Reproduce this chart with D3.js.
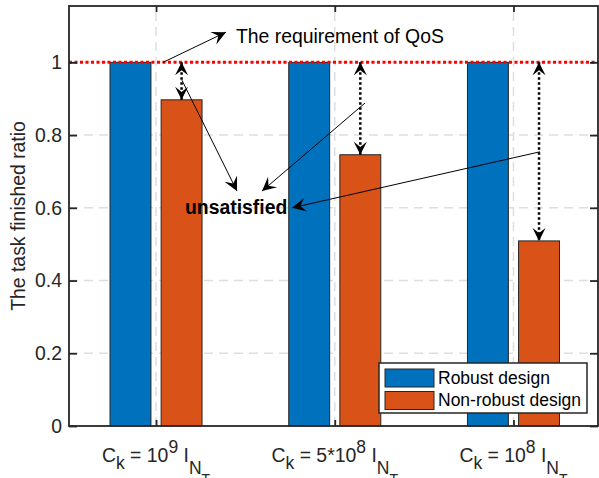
<!DOCTYPE html>
<html>
<head>
<meta charset="utf-8">
<script src="https://cdn.jsdelivr.net/npm/d3@7"></script>
<style>
  body { margin: 0; background: #fff; }
  svg { display: block; font-family: "Liberation Sans", Arial, Helvetica, sans-serif; }
</style>
</head>
<body>
<svg class="js-render-chart" width="599" height="478"></svg>
<script>
"use strict";

//data

const catBase = ["10", "5*10", "10"];
const catPower = ["9", "8", "8"];
const seriesNames = ["Robust design", "Non-robust design"];
const seriesColors = ["#0072BD", "#D95319"];
const robust = [1, 1, 1];
const nonRobust = [0.897, 0.746, 0.509];
const yTicks = [0, 0.2, 0.4, 0.6, 0.8, 1];
const yTickLabels = ["0", "0.2", "0.4", "0.6", "0.8", "1"];
const qosLevel = 1;

//annotations, in data units [x, y]

const qosText = { text: "The requirement of QoS", at: [1.447, 1.053] };
const qosArrow = [[1.039, 1.0], [1.391, 1.083]];
const unsatText = { text: "unsatisfied", at: [1.162, 0.582] };
const unsatArrows = [
  [[1.145, 0.951], [1.453, 0.646]],
  [[2.169, 0.888], [1.593, 0.646]],
  [[3.148, 0.754], [1.761, 0.600]]
];

//layout

const m = { t: 6, r: 1, b: 52, l: 69 };
const W = 599, H = 478;
const fs = 19.4;
const ink = "#262626";

const x = d3.scaleLinear().domain([0.513, 3.473]).range([m.l, W - m.r]);
const y = d3.scaleLinear().domain([0, 1.155]).range([H - m.b, m.t]);

const barW = x(0.229) - x(0);
const barOff = [-0.143, 0.143];
const series = [robust, nonRobust];

const svg = d3.select(".js-render-chart");

//arrow heads

const defs = svg.append("defs");
const head = (id, size) => {
  defs.append("marker")
    .attr("id", id)
    .attr("markerUnits", "userSpaceOnUse")
    .attr("viewBox", `${-size - 1} ${-size} ${size * 2 + 2} ${size * 2}`)
    .attr("markerWidth", size * 2 + 2)
    .attr("markerHeight", size * 2)
    .attr("refX", 0)
    .attr("refY", 0)
    .attr("orient", "auto-start-reverse")
    .append("path")
    .attr("d", `M0,0 L${-size},${-size * 0.5} L${-size * 0.6},0 L${-size},${size * 0.5} Z`)
    .attr("fill", "#000");
};
head("ah", 14);
head("ahd", 13);

//grid

const grid = svg.append("g")
  .attr("stroke", "#dedede")
  .attr("stroke-width", 1.5)
  .attr("stroke-dasharray", "9,6");

grid.selectAll(".gx")
  .data(catBase)
  .join("line")
  .attr("x1", (d, i) => x(i + 1))
  .attr("x2", (d, i) => x(i + 1))
  .attr("y1", y.range()[0])
  .attr("y2", y.range()[1]);

grid.selectAll(".gy")
  .data(yTicks.slice(1))
  .join("line")
  .attr("x1", x.range()[0])
  .attr("x2", x.range()[1])
  .attr("y1", d => y(d))
  .attr("y2", d => y(d));

//bars

series.forEach((vals, s) => {
  svg.append("g")
    .selectAll("rect")
    .data(vals)
    .join("rect")
    .attr("x", (d, i) => x(i + 1 + barOff[s]) - barW / 2)
    .attr("y", d => y(d))
    .attr("width", barW)
    .attr("height", d => y(0) - y(d))
    .attr("fill", seriesColors[s])
    .attr("stroke", ink)
    .attr("stroke-width", 1);
});

//qos line

svg.append("line")
  .attr("x1", x.range()[0])
  .attr("x2", x.range()[1])
  .attr("y1", y(qosLevel))
  .attr("y2", y(qosLevel))
  .attr("stroke", "#ff0000")
  .attr("stroke-width", 3)
  .attr("stroke-dasharray", "3,2.5");

//axes box

svg.append("rect")
  .attr("x", x.range()[0])
  .attr("y", y.range()[1])
  .attr("width", x.range()[1] - x.range()[0])
  .attr("height", y.range()[0] - y.range()[1])
  .attr("fill", "none")
  .attr("stroke", ink)
  .attr("stroke-width", 1.8);

const yAxis = svg.append("g")
  .attr("transform", `translate(${x.range()[0]}, 0)`)
  .call(d3.axisLeft(y).tickValues(yTicks).tickFormat((d, i) => yTickLabels[i]).tickSizeInner(-8).tickSizeOuter(0).tickPadding(7));

svg.append("g")
  .attr("transform", `translate(${x.range()[1]}, 0)`)
  .call(d3.axisRight(y).tickValues(yTicks).tickFormat("").tickSizeInner(-8).tickSizeOuter(0));

svg.append("g")
  .attr("transform", `translate(0, ${y.range()[0]})`)
  .call(d3.axisBottom(x).tickValues([1, 2, 3]).tickFormat("").tickSizeInner(-6).tickSizeOuter(0));

svg.append("g")
  .attr("transform", `translate(0, ${y.range()[1]})`)
  .call(d3.axisTop(x).tickValues([1, 2, 3]).tickFormat("").tickSizeInner(-6).tickSizeOuter(0));

svg.selectAll(".domain").remove();
svg.selectAll(".tick line").attr("stroke", ink).attr("stroke-width", 1.8);

yAxis.selectAll("text")
  .attr("font-size", fs)
  .attr("font-family", null)
  .attr("fill", ink);

//x labels

const xl = svg.append("g")
  .attr("font-size", fs)
  .attr("fill", ink)
  .selectAll("text")
  .data(catBase)
  .join("text")
  .attr("x", (d, i) => x(i + 1))
  .attr("y", 461.5)
  .attr("text-anchor", "middle");

xl.each(function (d, i) {
  const t = d3.select(this);
  const sub = 17.5;
  t.append("tspan").text("C");
  t.append("tspan").attr("font-size", sub).attr("dy", 7.5).text("k");
  t.append("tspan").attr("dy", -7.5).text(` = ${catBase[i]}`);
  t.append("tspan").attr("font-size", sub).attr("dy", -8.3).text(catPower[i]);
  t.append("tspan").attr("dy", 8.3).text(" I");
  t.append("tspan").attr("font-size", sub).attr("dy", 12.5).text("N");
  t.append("tspan").attr("font-size", 14).attr("dy", 10).text("T");
});

//y label

svg.append("text")
  .attr("transform", `translate(25, ${(y.range()[0] + y.range()[1]) / 2}) rotate(-90)`)
  .attr("text-anchor", "middle")
  .attr("font-size", fs)
  .attr("fill", ink)
  .text("The task finished ratio");

//gap arrows

svg.append("g")
  .selectAll("line")
  .data(nonRobust)
  .join("line")
  .attr("x1", (d, i) => x(i + 1 + barOff[1]))
  .attr("x2", (d, i) => x(i + 1 + barOff[1]))
  .attr("y1", (d, i) => y(robust[i]))
  .attr("y2", d => y(d))
  .attr("stroke", "#000")
  .attr("stroke-width", 2.5)
  .attr("stroke-dasharray", "2.5,2.5")
  .attr("marker-start", "url(#ahd)")
  .attr("marker-end", "url(#ahd)");

//annotations

svg.append("g")
  .selectAll("line")
  .data([qosArrow, ...unsatArrows])
  .join("line")
  .attr("x1", d => x(d[0][0]))
  .attr("y1", d => y(d[0][1]))
  .attr("x2", d => x(d[1][0]))
  .attr("y2", d => y(d[1][1]))
  .attr("stroke", "#000")
  .attr("stroke-width", 1)
  .attr("marker-end", "url(#ah)");

svg.append("text")
  .attr("x", x(qosText.at[0]))
  .attr("y", y(qosText.at[1]))
  .attr("font-size", fs)
  .attr("fill", "#000")
  .text(qosText.text);

svg.append("text")
  .attr("x", x(unsatText.at[0]))
  .attr("y", y(unsatText.at[1]))
  .attr("font-size", fs)
  .attr("font-weight", "bold")
  .attr("fill", "#000")
  .text(unsatText.text);

//legend

const lg = { w: 208, h: 50, r: 11, b: 13, row: 22.5 };
const legend = svg.append("g")
  .attr("transform", `translate(${x.range()[1] - lg.r - lg.w}, ${y.range()[0] - lg.b - lg.h})`);

legend.append("rect")
  .attr("width", lg.w)
  .attr("height", lg.h)
  .attr("fill", "#fff")
  .attr("stroke", ink)
  .attr("stroke-width", 1.5);

const item = legend.selectAll(".item")
  .data(seriesNames)
  .join("g")
  .attr("transform", (d, i) => `translate(6, ${15 + i * lg.row})`);

item.append("rect")
  .attr("y", -9)
  .attr("width", 49)
  .attr("height", 18)
  .attr("fill", (d, i) => seriesColors[i])
  .attr("stroke", ink)
  .attr("stroke-width", 1);

item.append("text")
  .attr("x", 53)
  .attr("y", 5.5)
  .attr("font-size", 17.5)
  .attr("fill", "#000")
  .text(d => d);
</script>
</body>
</html>
